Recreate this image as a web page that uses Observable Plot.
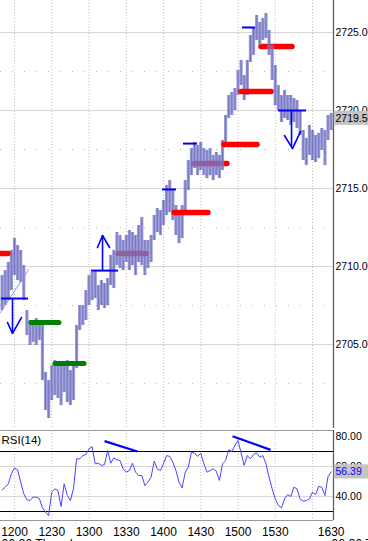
<!DOCTYPE html>
<html><head><meta charset="utf-8">
<script src="https://cdn.jsdelivr.net/npm/d3@7"></script>
<script src="https://cdn.jsdelivr.net/npm/@observablehq/plot@0.6"></script>
<style>
html,body{margin:0;padding:0;background:#fff;}
#chart{width:368px;height:541px;position:relative;overflow:hidden;background:#fff;}
#chart svg{display:block;}
</style></head><body><div id="chart"></div>
<script>
// ---- values (time = minutes after 12:00, 06-30 Thursday) ----
const firstBarMinute = -10;
const barMinutes = 2.5;
const highs = [2709.42,2709.74,2710.26,2711.03,2711.79,2711.35,2711.03,2710.06,2707.18,2706.54,
2706.41,2706.67,2706.54,2706.41,2703.21,2702.69,2703.65,2703.97,2703.85,2703.85,
2703.65,2703.97,2703.33,2703.65,2706.22,2707.5,2707.5,2708.46,2709.42,2709.62,
2709.74,2708.78,2709.1,2708.91,2709.23,2710.71,2711.03,2712.18,2711.99,2711.67,
2711.99,2712.31,2712.18,2711.99,2712.63,2713.14,2711.67,2711.67,2711.99,2713.27,
2713.72,2713.59,2714.23,2715.19,2715.51,2714.87,2713.91,2713.4,2713.91,2715.51,
2716.79,2717.56,2717.95,2717.76,2717.95,2717.56,2717.44,2717.56,2717.12,2717.31,
2717.12,2718.08,2719.68,2720.96,2721.15,2721.41,2722.56,2723.21,2722.24,2723.21,
2724.81,2725.26,2726.09,2725.64,2725.9,2726.22,2725.13,2724.17,2722.88,2721.6,
2720.96,2721.28,2720.96,2720.96,2720.77,2720.64,2720.0,2718.72,2718.21,2719.04,
2718.72,2718.4,2718.53,2718.85,2718.72,2719.68,2719.81];
const lows = [2707.18,2707.5,2707.82,2708.46,2709.42,2709.1,2708.97,2707.82,2705.58,2704.94,
2705.13,2704.94,2705.26,2702.69,2700.77,2700.26,2701.41,2701.73,2701.54,2701.09,
2701.92,2701.28,2701.09,2701.41,2703.46,2705.9,2706.22,2706.54,2707.5,2707.82,
2707.95,2707.18,2707.5,2707.31,2707.5,2708.78,2708.59,2710.06,2709.87,2709.74,
2710.26,2709.74,2710.06,2709.42,2710.26,2710.06,2709.42,2709.87,2710.26,2711.67,
2712.18,2711.99,2712.63,2713.27,2713.46,2712.95,2711.99,2711.47,2711.79,2713.27,
2714.87,2715.83,2716.28,2715.83,2716.15,2715.83,2715.64,2715.83,2715.51,2715.83,
2715.64,2716.15,2717.76,2719.49,2719.68,2720.0,2720.96,2721.6,2720.64,2720.96,
2723.08,2723.53,2724.49,2724.17,2724.49,2724.62,2723.53,2721.92,2720.32,2720.0,
2719.23,2719.49,2719.36,2719.04,2719.23,2718.85,2718.4,2716.79,2716.47,2717.12,
2716.79,2716.67,2716.92,2717.44,2716.47,2718.08,2718.72];
const rsi14 = [44.4,46.2,48.4,55.1,59.1,57.8,49.6,41.8,37.8,37.3,
39.6,39.6,38.7,32.4,29.6,27.3,42.9,45.1,44.0,33.3,
48.4,40.7,37.3,45.1,65.1,65.1,67.3,68.0,71.8,73.3,
61.8,62.2,60.7,61.3,70.7,62.2,65.8,64.4,64.0,58.4,
56.2,57.3,62.2,56.2,54.0,54.0,47.3,49.6,52.9,63.6,
58.4,57.3,61.8,67.3,66.7,62.9,57.3,49.6,45.8,56.2,
59.6,69.6,68.9,66.7,68.9,61.8,56.2,57.3,58.4,56.9,
50.7,61.8,64.0,71.1,70.0,74.0,77.3,68.9,60.7,67.3,
65.1,68.0,69.1,66.2,67.3,61.8,52.9,45.1,38.4,34.0,
32.4,38.4,41.3,40.0,46.2,45.1,38.4,36.9,37.3,38.4,
42.9,41.3,46.7,46.2,40.7,53.3,56.39];
const lastPrice = 2719.50;
const lastRsi = 56.39;

const priceTicks = [2705, 2710, 2715, 2720, 2725];
const priceHalfTicks = [2702.5, 2707.5, 2712.5, 2717.5, 2722.5];
const rsiTicks = [40, 60, 80];
const rsiLevels = [30, 70];
const timeGrid = [0, 30, 60, 90, 120, 150, 180, 210, 240];
const timeTicks = [0, 30, 60, 90, 120, 150, 180, 210, 255];
const timeLabels = ["1200","1230","1300","1330","1400","1430","1500","1530","1630"];
const dateLabel = "06-30 Thursday";

// level lines [from, to, price]
const redBehind = [[83.8,106.3,2710.83],[145.0,171.5,2716.6],[198.9,223.9,2724.1]];
const redFront  = [[-16,-4.8,2710.83],[128.9,156.2,2713.46],[169.1,195.7,2717.82],[182.8,207.0,2721.22]];
const greenLevels = [[13.7,36.2,2706.41],[33.0,56.4,2703.78]];
const blueLevels = [[-10.5,11.3,2707.95],[62.0,83.8,2709.74],[119.2,130.5,2714.94],[136.1,147.4,2717.88],[183.6,194.1,2725.32],[212.6,235.2,2720.0]];
// arrows: shaft [t, p0, p1] and head points
const arrowShafts = [[-1.6,2707.88,2705.71],[70.9,2709.74,2711.99],[223.1,2720.0,2717.69]];
const arrowHeads = [
  [[-5.6,2706.41],[-1.6,2705.71],[5.6,2706.73]],
  [[66.8,2711.22],[70.9,2711.99],[76.5,2711.22]],
  [[217.4,2718.4],[223.9,2717.56],[230.3,2718.65]]
];
const trendLine = [[-11.3,2707.05],[11.3,2709.81]];
// RSI divergence lines [t0, r0, t1, r1]
const rsiDivergence = [[72.5,76.9,99.0,70.0],[175.6,80.2,206.2,71.1]];

// ---- build ----
const W = 368, plotRight = 333;
const xDomain = [-11.27, 256.9];
const font = "'Liberation Sans', Arial, sans-serif";
const bars = highs.map((h, i) => ({t: firstBarMinute + i * barMinutes, high: h, low: lows[i]}));
const rsiData = rsi14.map((v, i) => ({t: firstBarMinute + i * barMinutes, v}));
const lvl = a => a.map(([from, to, price]) => ({from, to, price}));
const heads = arrowHeads.flatMap((pts, k) => pts.map(([t, p]) => ({t, p, k})));
const fmt2 = d3.format(".2f");
const labelOf = new Map(timeTicks.map((t, i) => [t, timeLabels[i]]));

const main = Plot.plot({
  width: W, height: 428,
  marginLeft: 0, marginRight: W - plotRight, marginTop: 0, marginBottom: 0,
  x: {domain: xDomain, axis: null, label: null},
  y: {domain: [2699.62, 2727.05], axis: null, label: null},
  style: {fontFamily: font, fontSize: "11px", color: "#000", background: "#fff", overflow: "visible"},
  marks: [
    Plot.ruleY(priceHalfTicks, {stroke: "#b8b8b8", strokeDasharray: "1,11"}),
    Plot.ruleY(priceTicks, {stroke: "#d6d6d6"}),
    Plot.ruleX(timeGrid, {stroke: "#c0c0c0", strokeDasharray: "1,2"}),
    Plot.ruleY(lvl(redBehind), {y: "price", x1: "from", x2: "to", stroke: "#ff0000", strokeWidth: 5.5, strokeLinecap: "round", clip: true}),
    Plot.ruleX(bars, {x: "t", y1: "low", y2: "high", stroke: "#7f7fca", strokeWidth: 3.2, strokeOpacity: 0.8, clip: true}),
    Plot.ruleX(bars, {x: "t", y1: "low", y2: "high", stroke: "#5a5ab4", strokeWidth: 1, strokeOpacity: 0.55, clip: true}),
    Plot.ruleY(lvl(redFront), {y: "price", x1: "from", x2: "to", stroke: "#ff0000", strokeWidth: 5.5, strokeLinecap: "round", clip: true}),
    Plot.ruleY(lvl(greenLevels), {y: "price", x1: "from", x2: "to", stroke: "#008000", strokeWidth: 5, strokeLinecap: "round", clip: true}),
    Plot.line(trendLine, {x: d => d[0], y: d => d[1], stroke: "#8a8aff", strokeWidth: 1, clip: true}),
    Plot.ruleY(lvl(blueLevels), {y: "price", x1: "from", x2: "to", stroke: "#0000ff", strokeWidth: 2, clip: true}),
    Plot.ruleX(arrowShafts, {x: d => d[0], y1: d => d[1], y2: d => d[2], stroke: "#0000ff", strokeWidth: 1.6}),
    Plot.line(heads, {x: "t", y: "p", z: "k", stroke: "#0000ff", strokeWidth: 1.6}),
    Plot.ruleX([xDomain[1]], {stroke: "#555", strokeWidth: 1.2}),
    Plot.axisY(priceTicks, {anchor: "right", label: null, tickSize: 0, tickPadding: 2, tickFormat: fmt2, fill: "#000", fontSize: 10.5}),
    Plot.rect([lastPrice], {x1: xDomain[1] + 0.6, x2: xDomain[1] + 40, y1: d => d - 0.45, y2: d => d + 0.45, fill: "#c4c4c4"}),
    Plot.text([lastPrice], {x: xDomain[1], y: d => d, text: fmt2, textAnchor: "start", dx: 2, fill: "#000", fontSize: 10.5})
  ]
});

const rsiPlot = Plot.plot({
  width: W, height: 113,
  marginLeft: 0, marginRight: W - plotRight, marginTop: 2, marginBottom: 21,
  x: {domain: xDomain, axis: null, label: null},
  y: {domain: [24, 84], axis: null, label: null},
  style: {fontFamily: font, fontSize: "11px", color: "#000", background: "#fff", overflow: "visible"},
  marks: [
    Plot.ruleY([60, 40], {stroke: "#d6d6d6"}),
    Plot.ruleX(timeGrid, {stroke: "#c0c0c0", strokeDasharray: "1,2"}),
    Plot.ruleY([84], {stroke: "#999"}),
    Plot.ruleY([24], {stroke: "#999"}),
    Plot.ruleY(rsiLevels, {stroke: "#000", strokeWidth: 1}),
    Plot.line(rsiData, {x: "t", y: "v", stroke: "#4545ff", strokeWidth: 1, clip: true}),
    Plot.link(rsiDivergence, {x1: d => d[0], y1: d => d[1], x2: d => d[2], y2: d => d[3], stroke: "#0000ff", strokeWidth: 2.2}),
    Plot.text(["RSI(14)"], {frameAnchor: "top-left", dx: 1, dy: 5, textAnchor: "start", lineAnchor: "top", fill: "#000", fontSize: 11.5}),
    Plot.ruleX([xDomain[1]], {stroke: "#555", strokeWidth: 1.2}),
    Plot.axisY(rsiTicks, {anchor: "right", label: null, tickSize: 0, tickPadding: 2, tickFormat: fmt2, fill: "#000", fontSize: 10.5}),
    Plot.rect([lastRsi], {x1: xDomain[1] + 0.6, x2: xDomain[1] + 40, y1: d => d - 4.7, y2: d => d + 4.7, fill: "#c4c4c4"}),
    Plot.text([lastRsi], {x: xDomain[1], y: d => d, text: fmt2, textAnchor: "start", dx: 2, fill: "#0000ff", fontSize: 10.5}),
    Plot.axisX(timeTicks, {anchor: "bottom", label: null, tickSize: 0, tickPadding: 7, tickFormat: d => labelOf.get(d), fill: "#000", fontSize: 12}),
    Plot.text([dateLabel], {frameAnchor: "bottom-left", dy: 19, dx: 1, textAnchor: "start", lineAnchor: "top", fill: "#000", fontSize: 12}),
    Plot.text([dateLabel], {x: xDomain[1], frameAnchor: "bottom", dy: 19, dx: -2, textAnchor: "start", lineAnchor: "top", fill: "#000", fontSize: 12})
  ]
});

const root = document.getElementById("chart");
root.appendChild(main);
root.appendChild(rsiPlot);
</script>
</body></html>
